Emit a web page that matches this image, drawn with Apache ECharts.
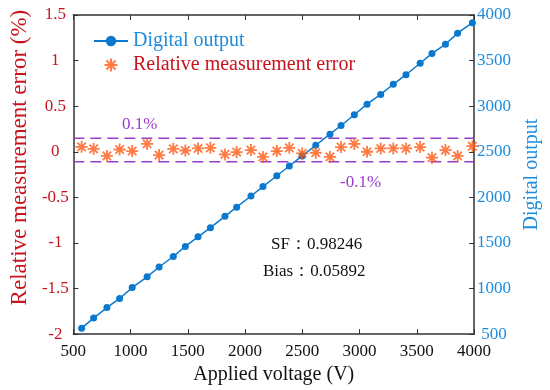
<!DOCTYPE html>
<html><head><meta charset="utf-8">
<script src="https://cdn.jsdelivr.net/npm/echarts@6/dist/echarts.min.js"></script>
<style>html,body{margin:0;padding:0;background:#fff}#c{width:550px;height:390px}</style>
</head><body><div id="c"></div>
<script>
const voltage = [572, 677, 793, 904, 1014, 1144, 1249, 1373, 1478, 1589, 1697, 1824, 1926, 2051, 2156, 2277, 2386, 2498, 2617, 2741, 2838, 2954, 3065, 3184, 3294, 3405, 3529, 3632, 3750, 3856, 3985];
const digitalOutput = [565, 676, 791, 891, 1010, 1128, 1236, 1351, 1462, 1567, 1667, 1792, 1892, 2015, 2118, 2237, 2344, 2454, 2571, 2693, 2788, 2906, 3022, 3129, 3240, 3345, 3471, 3579, 3679, 3801, 3916];
const relError = [0.054, 0.032, -0.046, 0.025, 0.008, 0.086, -0.036, 0.032, 0.014, 0.036, 0.043, -0.029, -0.003, 0.018, -0.057, 0.008, 0.043, -0.018, -0.011, -0.057, 0.051, 0.086, 0.0, 0.036, 0.036, 0.036, 0.051, -0.065, 0.018, -0.046, 0.061];
const upperBound = 0.148, lowerBound = -0.11;
const xRange = [500, 4000];
const fitText = ['SF\uFF1A0.98246', 'Bias\uFF1A0.05892'];

const serif = 'Liberation Serif, Times New Roman, serif';
const red = '#C8141E', blue = '#0A78CD', lblue = '#1E8CDC', orange = '#FF5A14', purple = '#9B3CC8';
const plain = v => String(v);
const chart = echarts.init(document.getElementById('c'));
const star = 'path://M0,-10L0,10M-10,0L10,0M-7,-7L7,7M-7,7L7,-7';
chart.setOption({
  animation: false,
  grid: {left: 58, right: 70, top: 15, bottom: 50},
  legend: {
    orient: 'vertical', left: 88, top: 26, itemWidth: 34, itemHeight: 13, itemGap: 4,
    textStyle: {fontFamily: serif, fontSize: 20},
    data: [
      {name: 'Digital output', textStyle: {color: lblue}},
      {name: 'Relative measurement error', textStyle: {color: red}}
    ]
  },
  xAxis: [{
    type: 'value', min: 500, max: 4000, interval: 500,
    name: 'Applied voltage (V)', nameLocation: 'middle', nameGap: 26,
    nameTextStyle: {fontFamily: serif, fontSize: 20, color: '#111'},
    axisLine: {onZero: false, lineStyle: {color: '#333', width: 1.5}},
    axisTick: {inside: true, length: 5, lineStyle: {color: '#333'}},
    axisLabel: {fontFamily: serif, fontSize: 17, color: '#111', margin: 9, formatter: plain},
    splitLine: {show: false}
  }, {
    type: 'value', position: 'top', min: 500, max: 4000, interval: 500,
    axisLine: {show: true, onZero: false, lineStyle: {color: '#333', width: 1.5}},
    axisTick: {inside: true, length: 5, lineStyle: {color: '#333'}},
    axisLabel: {show: false}, splitLine: {show: false}
  }],
  yAxis: [{
    type: 'value', min: -2, max: 1.5, interval: 0.5,
    name: 'Relative measurement error (%)', nameLocation: 'middle', nameGap: 34,
    nameTextStyle: {fontFamily: serif, fontSize: 23, color: red, padding: [0, 0, 0, 34]},
    axisLine: {show: true, onZero: false, lineStyle: {color: '#333', width: 1.5}},
    axisTick: {inside: true, length: 5, lineStyle: {color: '#333'}},
    axisLabel: {fontFamily: serif, fontSize: 17, color: red, margin: 18, align: 'center', formatter: plain},
    splitLine: {show: false}
  }, {
    type: 'value', min: 500, max: 4000, interval: 500, position: 'right',
    name: 'Digital output', nameLocation: 'middle', nameGap: 45,
    nameTextStyle: {fontFamily: serif, fontSize: 20, color: lblue},
    axisLine: {show: true, onZero: false, lineStyle: {color: '#333', width: 1.5}},
    axisTick: {inside: true, length: 5, lineStyle: {color: '#333'}},
    axisLabel: {fontFamily: serif, fontSize: 17, color: lblue, margin: 20, align: 'center', formatter: plain},
    splitLine: {show: false}
  }],
  series: [{
    name: 'Digital output', type: 'line', yAxisIndex: 1,
    data: voltage.map((v, i) => [v, digitalOutput[i]]),
    symbol: 'circle', symbolSize: 7,
    lineStyle: {color: blue, width: 1.5}, itemStyle: {color: blue}, z: 3
  }, {
    name: 'Relative measurement error', type: 'scatter', yAxisIndex: 0,
    data: voltage.map((v, i) => [v, relError[i]]),
    symbol: star, symbolSize: 12,
    itemStyle: {color: 'rgba(0,0,0,0)', borderColor: orange, borderWidth: 1.8}, z: 4
  }, {
    name: 'upper', type: 'line', yAxisIndex: 0, symbol: 'none',
    data: [[xRange[0], upperBound], [xRange[1], upperBound]],
    lineStyle: {color: purple, width: 1.5, type: [11, 6]}, z: 2
  }, {
    name: 'lower', type: 'line', yAxisIndex: 0, symbol: 'none',
    data: [[xRange[0], lowerBound], [xRange[1], lowerBound]],
    lineStyle: {color: purple, width: 1.5, type: [11, 6]}, z: 2
  }],
  graphic: [
    {type: 'text', left: 122, top: 116, style: {text: '0.1%', font: '17px ' + serif, fill: purple}},
    {type: 'text', left: 340, top: 174, style: {text: '-0.1%', font: '17px ' + serif, fill: purple}},
    {type: 'text', left: 271, top: 236, style: {text: fitText[0], font: '17px ' + serif, fill: '#111'}},
    {type: 'text', left: 263, top: 263, style: {text: fitText[1], font: '17px ' + serif, fill: '#111'}}
  ]
});
</script></body></html>
